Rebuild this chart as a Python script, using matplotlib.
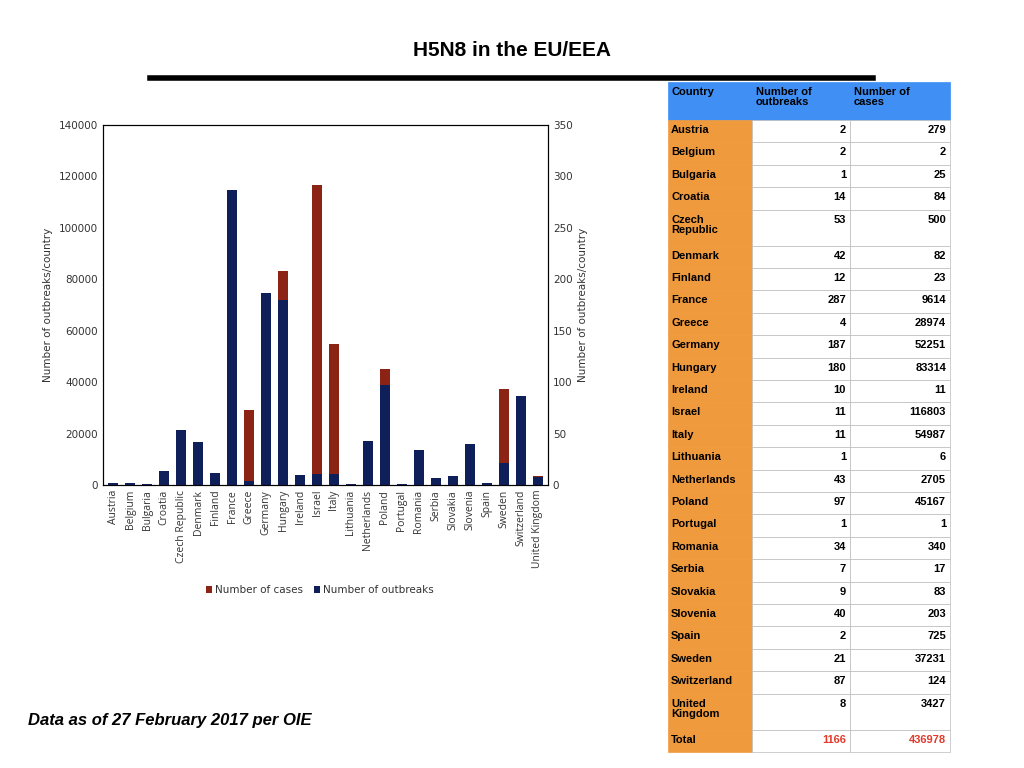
import matplotlib
matplotlib.use("Agg")
import matplotlib.pyplot as plt
from matplotlib.patches import Rectangle
import numpy as np

countries = ["Austria","Belgium","Bulgaria","Croatia","Czech Republic","Denmark","Finland","France",
             "Greece","Germany","Hungary","Ireland","Israel","Italy","Lithuania","Netherlands","Poland",
             "Portugal","Romania","Serbia","Slovakia","Slovenia","Spain","Sweden","Switzerland","United Kingdom"]
outbreaks = [2,2,1,14,53,42,12,287,4,187,180,10,11,11,1,43,97,1,34,7,9,40,2,21,87,8]
cases = [279,2,25,84,500,82,23,9614,28974,52251,83314,11,116803,54987,6,2705,45167,1,340,17,83,203,725,37231,124,3427]
table_names = ["Austria","Belgium","Bulgaria","Croatia","Czech\nRepublic","Denmark","Finland","France",
               "Greece","Germany","Hungary","Ireland","Israel","Italy","Lithuania","Netherlands","Poland",
               "Portugal","Romania","Serbia","Slovakia","Slovenia","Spain","Sweden","Switzerland","United\nKingdom"]

W, H = 1024, 768
fig = plt.figure(figsize=(W/100, H/100), dpi=100)
fig.patch.set_facecolor("white")

fig.text(512/W, 1-50/H, "H5N8 in the EU/EEA", ha="center", va="center", fontsize=15, fontweight="bold",
         family="Liberation Sans")
fig.add_artist(plt.Line2D([150/W, 873/W], [1-78/H, 1-78/H], color="black", lw=4))

ax = fig.add_axes([103/W, 1-485/H, 445/W, 360/H])
ax2 = ax.twinx()
x = np.arange(len(countries))
ax.bar(x, cases, width=0.6, color="#8B2414", label="Number of cases", zorder=1)
ax2.bar(x, outbreaks, width=0.6, color="#0F1F5A", label="Number of outbreaks", zorder=2)
ax.set_ylim(0, 140000); ax2.set_ylim(0, 350)
ax.set_xlim(-0.6, len(countries)-0.4)
ax.set_yticks(range(0, 140001, 20000))
ax2.set_yticks(range(0, 351, 50))
ax.set_xticks(x)
ax.set_xticklabels(countries, rotation=90, fontsize=7.5, family="Open Sans", color="#333333")
for a in (ax, ax2):
    a.tick_params(length=0, labelsize=7.5, colors="#333333")
    for s in a.spines.values():
        s.set_color("black"); s.set_linewidth(0.8)
ax.set_ylabel("Number of outbreaks/country", fontsize=7.5, color="#333333")
ax2.set_ylabel("Number of outbreaks/country", fontsize=7.5, color="#333333")
h1, l1 = ax.get_legend_handles_labels()
h2, l2 = ax2.get_legend_handles_labels()
fig.legend(h1+h2, l1+l2, loc="center", bbox_to_anchor=(320/W, 1-590/H), ncol=2, frameon=False,
           fontsize=7.5, handlelength=0.6, handleheight=0.6, columnspacing=1.0, handletextpad=0.3,
           labelcolor="#333333")

fig.text(28/W, 1-720/H, "Data as of 27 February 2017 per OIE", fontsize=12, fontweight="bold",
         style="italic", va="center", family="Liberation Sans")

# table
cx = [668, 752, 850, 950]
top_hdr, top_body, bottom = 82, 120, 752
units = [1.6 if "\n" in n else 1.0 for n in table_names] + [1.0]
unit = (bottom - top_body) / sum(units)
def rect(x0, y0, x1, y1, fc, ec="#bbbbbb", lw=0.5):
    fig.add_artist(Rectangle((x0/W, 1-y1/H), (x1-x0)/W, (y1-y0)/H, facecolor=fc, edgecolor=ec, lw=lw,
                             transform=fig.transFigure))
rect(cx[0], top_hdr, cx[3], top_body, "#3F8FF5", ec="#3F8FF5")
hdrs = ["Country", "Number of\noutbreaks", "Number of\ncases"]
for i, t in enumerate(hdrs):
    fig.text((cx[i]+4)/W, 1-(top_hdr+5)/H, t, fontsize=8, fontweight="bold", va="top", ha="left",
             family="Liberation Sans", linespacing=1.0)
names = table_names + ["Total"]
ob = [str(v) for v in outbreaks] + [str(sum(outbreaks))]
cs = [str(v) for v in cases] + [str(sum(cases))]
y = top_body
for k, n in enumerate(names):
    h = units[k]*unit
    rect(cx[0], y, cx[1], y+h, "#F09A3E", ec="#F09A3E")
    rect(cx[1], y, cx[2], y+h, "white")
    rect(cx[2], y, cx[3], y+h, "white")
    col = "#E03A2A" if n == "Total" else "black"
    fig.text((cx[0]+3)/W, 1-(y+5)/H, n, fontsize=8, fontweight="bold", va="top", ha="left",
             family="Liberation Sans", linespacing=1.0)
    fig.text((cx[2]-4)/W, 1-(y+5)/H, ob[k], fontsize=8, fontweight="bold", va="top", ha="right",
             family="Liberation Sans", color=col)
    fig.text((cx[3]-4)/W, 1-(y+5)/H, cs[k], fontsize=8, fontweight="bold", va="top", ha="right",
             family="Liberation Sans", color=col)
    y += h

fig.savefig("out.png", dpi=100)
